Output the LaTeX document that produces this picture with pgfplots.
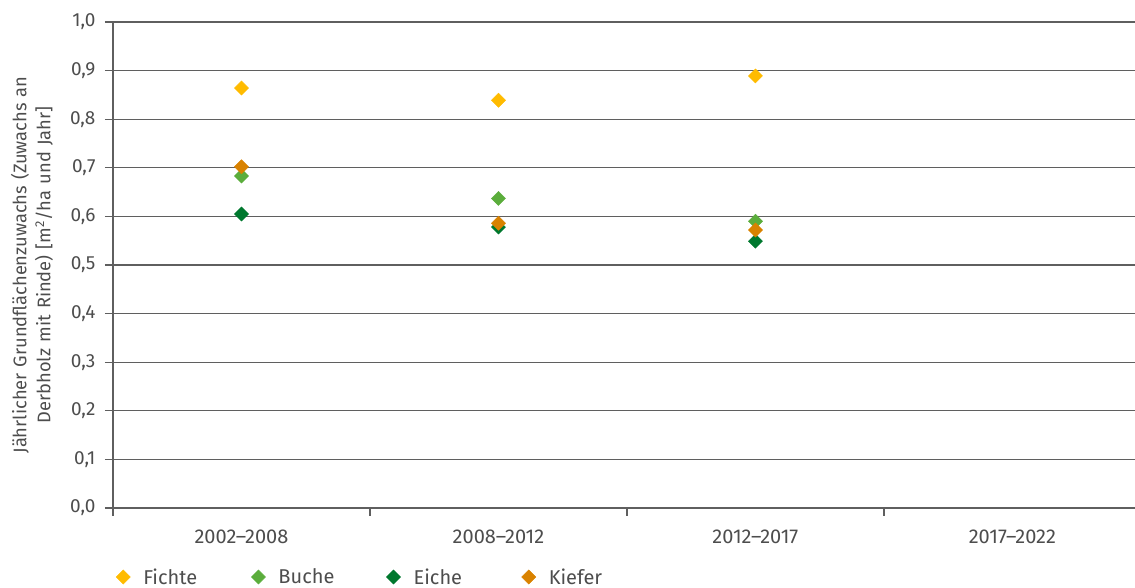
\documentclass[border=0pt]{standalone}
\usepackage{fontspec}
\setmainfont{Fira Sans}
\usepackage{pgfplots}
\pgfplotsset{compat=1.18}
\definecolor{txt}{HTML}{4D4D4D}
\definecolor{gridc}{HTML}{5F5F5F}
\definecolor{cFichte}{HTML}{FFBB00}
\definecolor{cBuche}{HTML}{5BAD3C}
\definecolor{cEiche}{HTML}{00782E}
\definecolor{cKiefer}{HTML}{D98200}
\begin{document}
\begin{tikzpicture}
\path[use as bounding box] (-113pt,-80pt) rectangle (1022pt,508pt);
\begin{axis}[
  at={(0pt,0pt)}, anchor=south west,
  scale only axis, width=1022pt, height=486pt,
  xmin=-0.5, xmax=3.477, ymin=0, ymax=1,
  axis x line=bottom, axis y line=left,
  axis line style={gridc, line width=1.2pt, -},
  xtick={0,1,2,3},
  xticklabels={2002--2008,2008--2012,2012--2017,2017--2022},
  minor xtick={-0.5,0.5,1.5,2.5},
  x tick style={draw=none},
  minor x tick style={draw=gridc, line width=1.2pt},
  ytick={0,0.1,...,1.0},
  y tick style={draw=gridc, line width=1.2pt},
  tick align=outside,
  major tick length=8pt, minor tick length=8pt,
  ymajorgrids, grid style={gridc, line width=1.2pt},
  /pgf/number format/use comma,
  /pgf/number format/fixed,
  /pgf/number format/fixed zerofill,
  /pgf/number format/precision=1,
  /pgf/number format/assume math mode=true,
  tick label style={font=\fontsize{19}{22}\selectfont, text=txt},
  xticklabel style={font=\fontsize{20}{22}\selectfont, yshift=-10pt},
  yticklabel style={xshift=-6pt},
  ylabel={Jährlicher Grundflächenzuwachs (Zuwachs an\\Derbholz mit Rinde) [m\textsuperscript{2}/ha und Jahr]},
  ylabel style={at={(axis description cs:-0.0793,0.5)}, anchor=center, align=center,
    text width=480pt, font=\fontsize{18.3}{24}\selectfont, text=txt},
  legend style={at={(axis description cs:0,-0.142)}, anchor=west, draw=none, fill=none,
    legend columns=-1, font=\fontsize{20}{22}\selectfont, text=txt,
    /tikz/every even column/.append style={column sep=0pt},
    nodes={text width=95pt, align=left, inner xsep=13pt}},
  legend image code/.code={\draw[#1] plot coordinates {(4pt,0pt)};},
  every axis plot/.append style={mark=square*, mark size=5pt, mark options={rotate=45}},
]
\addplot[only marks, draw=cFichte, fill=cFichte] coordinates {(0,0.864) (1,0.839) (2,0.889)};
\addlegendentry{Fichte}
\addplot[only marks, draw=cBuche, fill=cBuche] coordinates {(0,0.683) (1,0.637) (2,0.590)};
\addlegendentry{Buche}
\addplot[only marks, draw=cEiche, fill=cEiche] coordinates {(0,0.605) (1,0.578) (2,0.549)};
\addlegendentry{Eiche}
\addplot[only marks, draw=cKiefer, fill=cKiefer] coordinates {(0,0.702) (1,0.586) (2,0.572)};
\addlegendentry{Kiefer}
\end{axis}
\end{tikzpicture}
\end{document}
